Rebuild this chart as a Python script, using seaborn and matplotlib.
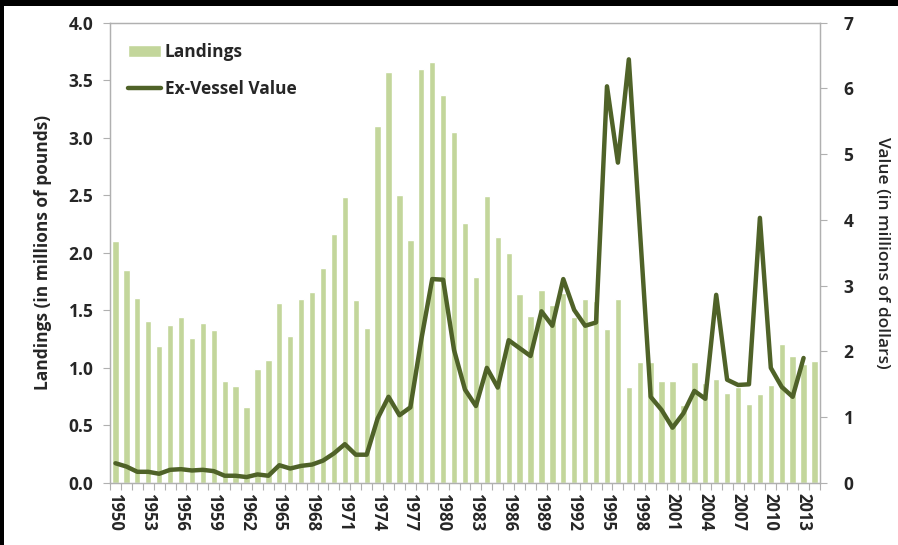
import numpy as np
import pandas as pd
import matplotlib
matplotlib.use("Agg")
import matplotlib.pyplot as plt
import seaborn as sns
from matplotlib.patches import Rectangle

years = list(range(1950, 2015))
landings = [2.10, 1.85, 1.61, 1.41, 1.19, 1.37, 1.44, 1.26, 1.39, 1.33,
            0.89, 0.84, 0.66, 0.99, 1.07, 1.56, 1.28, 1.60, 1.66, 1.87,
            2.16, 2.48, 1.59, 1.35, 3.10, 3.57, 2.50, 2.11, 3.60, 3.66,
            3.37, 3.05, 2.26, 1.79, 2.49, 2.14, 2.00, 1.64, 1.45, 1.68,
            1.55, 1.65, 1.44, 1.60, 1.58, 1.34, 1.60, 0.83, 1.05, 1.05,
            0.89, 0.89, 0.68, 1.05, 0.87, 0.90, 0.78, 0.83, 0.69, 0.77,
            0.85, 1.21, 1.10, 1.03, 1.06]
value = [0.30, 0.25, 0.17, 0.17, 0.14, 0.20, 0.21, 0.19, 0.20, 0.18,
         0.11, 0.11, 0.09, 0.13, 0.11, 0.27, 0.22, 0.26, 0.28, 0.34,
         0.45, 0.59, 0.43, 0.43, 0.98, 1.31, 1.03, 1.15, 2.18, 3.10,
         3.09, 2.02, 1.42, 1.17, 1.75, 1.45, 2.17, 2.05, 1.93, 2.61,
         2.39, 3.10, 2.63, 2.39, 2.44, 6.03, 4.87, 6.44, 3.88, 1.31,
         1.11, 0.84, 1.06, 1.40, 1.28, 2.86, 1.57, 1.49, 1.50, 4.03,
         1.75, 1.46, 1.31, 1.90, np.nan]
year_labels = [str(y) for y in range(1950, 2014, 3)]
left_ticks = [0.0, 0.5, 1.0, 1.5, 2.0, 2.5, 3.0, 3.5, 4.0]
right_ticks = [0, 1, 2, 3, 4, 5, 6, 7]

df = pd.DataFrame({"Year": years, "Landings": landings, "Value": value})

sns.set_style("white")
plt.rcParams["font.family"] = ["Open Sans", "DejaVu Sans"]

BAR = "#c3d69b"
LINE = "#4f6228"
GRAY = "#b0b0b0"

fig = plt.figure(figsize=(8.98, 5.45), dpi=100)
fig.patch.set_facecolor("white")
ax = fig.add_axes([0.1225, 0.1138, 0.7906, 0.8449])

sns.barplot(data=df, x="Year", y="Landings", ax=ax, color=BAR,
            native_scale=True, width=0.58, saturation=1, label="Landings")
if ax.get_legend() is not None:
    ax.get_legend().remove()
ax2 = ax.twinx()
sns.lineplot(data=df, x="Year", y="Value", ax=ax2, color=LINE,
             linewidth=3.2, label="Ex-Vessel Value", legend=False)
if ax2.get_legend() is not None:
    ax2.get_legend().remove()

ax.set_xlim(1949.5, 2014.5)
ax.set_ylim(0, 4.0)
ax2.set_ylim(0, 7)

ax.set_yticks(left_ticks)
ax.set_yticklabels([f"{t:.1f}" for t in left_ticks], fontsize=12.5, fontweight="bold")
ax2.set_yticks(right_ticks)
ax2.set_yticklabels([str(t) for t in right_ticks], fontsize=12.5, fontweight="bold")

ax.set_xticks([int(s) for s in year_labels])
ax.set_xticklabels(year_labels, rotation=-90, fontsize=12, fontweight="bold")
ax.set_xticks(np.arange(1949.5, 2015.5, 1.0), minor=True)
ax.tick_params(axis="x", which="major", length=0, pad=7)
ax.tick_params(axis="x", which="minor", length=5, color=GRAY, width=0.8, direction="out", bottom=True)
ax.tick_params(axis="y", length=5, color=GRAY, width=0.8, direction="out", left=True, pad=7)
ax2.tick_params(axis="y", length=5, color=GRAY, width=0.8, direction="out", right=True, pad=12)

for a in (ax, ax2):
    for s in a.spines.values():
        s.set_color(GRAY)
        s.set_linewidth(0.9)

ax.set_xlabel("")
ax.set_ylabel("Landings (in millions of pounds)", fontsize=12.5, fontweight="bold", labelpad=12)
ax2.set_ylabel("Value (in millions of dollars)", fontsize=12.5, fontweight="semibold",
               rotation=270, labelpad=26)

ax.set_zorder(0)
ax2.set_zorder(1)
ax.patch.set_visible(True)
ax2.patch.set_visible(False)

h1, l1 = ax.get_legend_handles_labels()
h2, l2 = ax2.get_legend_handles_labels()
ax2.legend(h1 + h2, l1 + l2, loc="upper left", bbox_to_anchor=(0.004, 0.99),
           frameon=False, prop={"weight": "bold", "size": 12.5},
           handlelength=1.9, handletextpad=0.2, labelspacing=1.1)

# black frame strips at top and left edges as in the reference image
fig.patches.append(Rectangle((0, 1 - 6 / 545), 1, 6 / 545, transform=fig.transFigure,
                             facecolor="black", edgecolor="none", zorder=10))
fig.patches.append(Rectangle((0, 0), 4 / 898, 1, transform=fig.transFigure,
                             facecolor="black", edgecolor="none", zorder=10))

fig.savefig("out.png", dpi=100)
